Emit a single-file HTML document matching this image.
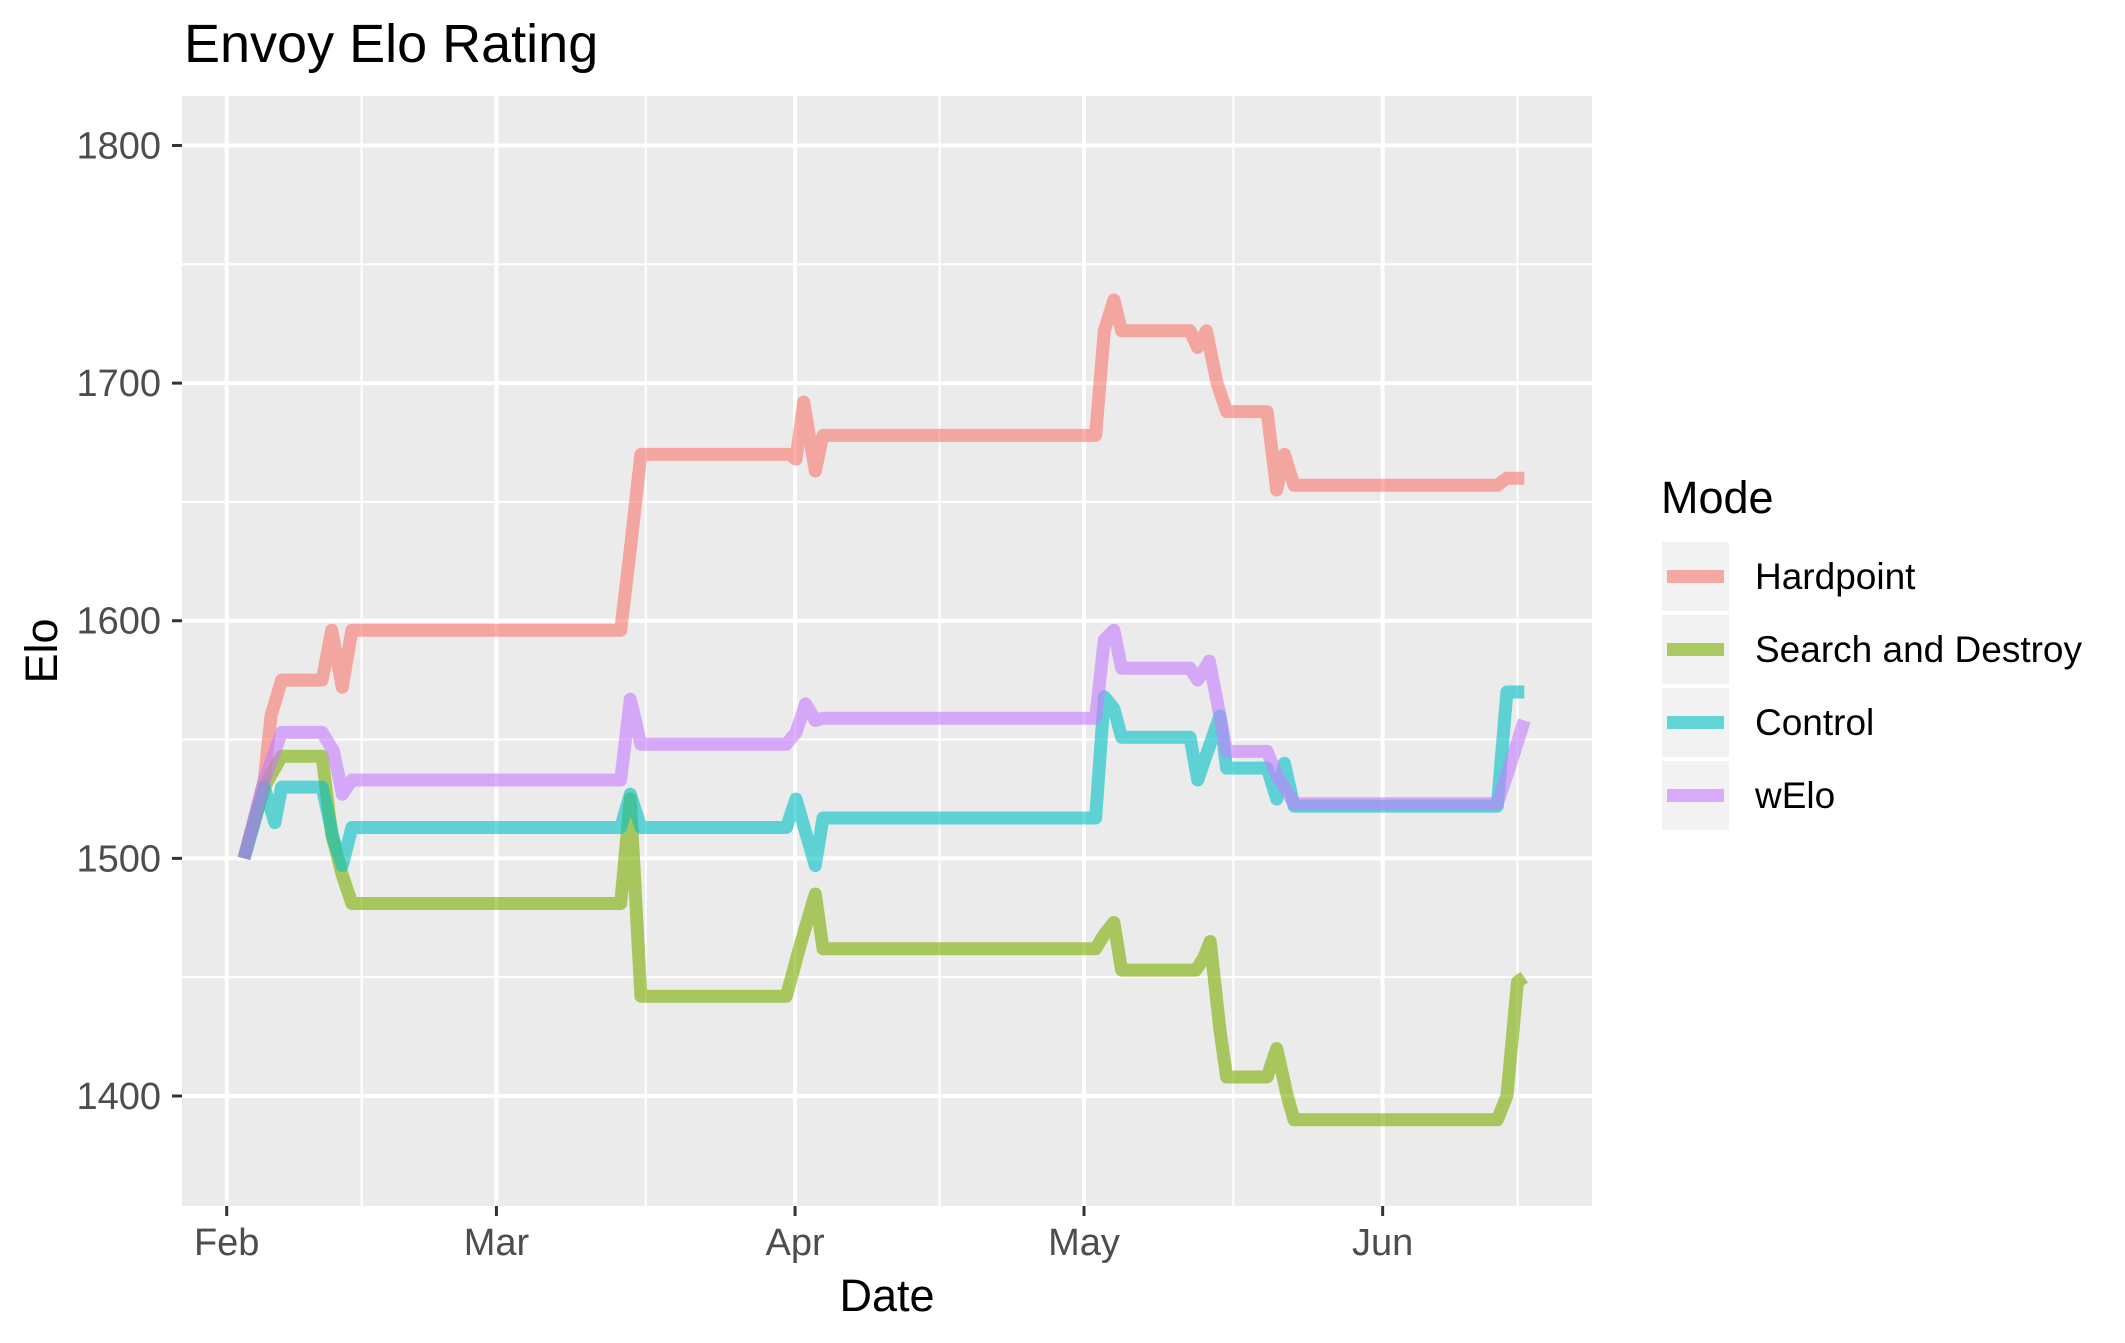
<!DOCTYPE html>
<html><head><meta charset="utf-8"><style>
html,body{margin:0;padding:0;background:#fff;}
svg{display:block;font-family:"Liberation Sans",Arial,sans-serif;}
</style></head><body>
<svg id="chart" width="2125" height="1343" viewBox="0 0 2125 1343" xmlns="http://www.w3.org/2000/svg">
<text x="184" y="62" font-size="54" fill="#000">Envoy Elo Rating</text>
<rect x="182" y="96" width="1410" height="1110" fill="#ebebeb"/>
<g id="grid"></g>
<g id="axes"></g>
<g id="series"></g>
<text x="887" y="1311" font-size="45" text-anchor="middle" fill="#000">Date</text>
<text x="0" y="0" font-size="45" text-anchor="middle" fill="#000" transform="translate(57,651) rotate(-90)">Elo</text>
<g>
<text x="1661" y="513" font-size="45" fill="#000">Mode</text>
<g id="legend-items"></g>
</g>
</svg>
<script>
const seriesNames = ["Hardpoint","Search and Destroy","Control","wElo"];
const seriesColors = ["#F8766D","#7CAE00","#00BFC4","#C77CFF"];
const hpDays = [1.8,3.9,4.6,5.7,9.9,10.9,12.0,13.0,40.9,41.9,43.0,58.4,59.1,59.9,61.1,61.9,90.2,91.1,92.1,92.9,100.0,100.8,101.7,102.8,103.8,108.0,109.0,109.8,110.8,131.9,132.9,134.7];
const hpVals = [1500,1533,1560,1575,1575,1596,1572,1596,1596,1630,1670,1670,1668,1692,1663,1678,1678,1722,1735,1722,1722,1715,1722,1700,1688,1688,1655,1670,1657,1657,1660,1660];
const sdDays = [1.8,3.9,5.7,9.9,10.9,12.0,13.0,40.9,41.9,43.0,58.1,59.5,61.1,61.9,90.2,91.1,92.1,92.9,100.6,101.4,102.1,103.1,103.8,108.0,109.0,110.1,110.8,131.9,132.9,134.0,134.7];
const sdVals = [1500,1530,1543,1543,1510,1493,1481,1481,1525,1442,1442,1463,1485,1462,1462,1468,1473,1453,1453,1458,1465,1428,1408,1408,1420,1400,1390,1390,1400,1448,1450];
const ctDays = [1.8,3.9,5.0,5.7,9.9,11.1,12.0,13.0,40.9,41.9,43.0,58.1,59.1,61.1,61.9,90.2,91.1,92.1,92.9,100.0,100.8,103.1,103.8,108.0,109.0,109.8,110.8,131.9,132.9,134.7];
const ctVals = [1500,1530,1515,1530,1530,1508,1497,1513,1513,1527,1513,1513,1525,1497,1517,1517,1568,1563,1551,1551,1533,1560,1538,1538,1525,1540,1522,1522,1570,1570];
const weDays = [1.8,3.9,5.0,5.7,9.9,11.1,12.0,13.0,40.9,41.9,43.0,58.1,59.1,60.1,61.1,61.9,90.2,91.1,92.1,92.9,100.0,100.8,102.0,103.1,103.8,108.0,109.0,109.8,110.8,131.9,133.3,134.7];
const weVals = [1500,1533,1545,1553,1553,1545,1527,1533,1533,1567,1548,1548,1553,1565,1558,1559,1559,1592,1596,1580,1580,1575,1583,1560,1545,1545,1535,1530,1523,1523,1540,1558];
const yTicks = [1400,1500,1600,1700,1800];
const yMinor = [1450,1550,1650,1750];
const xTickLabels = ["Feb","Mar","Apr","May","Jun"];
const xTickDays = [0,28,59,89,120];
const xMinorDays = [14,43.5,74,104.5,134];

const NS="http://www.w3.org/2000/svg";
function X(d){return 226.7 + d*9.633;}
function Y(v){return 1096 - (v-1400)*2.3763;}
function mk(tag,attrs,parent){const e=document.createElementNS(NS,tag);for(const k in attrs)e.setAttribute(k,attrs[k]);parent.appendChild(e);return e;}
const grid=document.getElementById('grid'),axes=document.getElementById('axes'),ser=document.getElementById('series'),leg=document.getElementById('legend-items');
yMinor.forEach(v=>{const l=mk('line',{x1:182,x2:1592,y1:Y(v),y2:Y(v),stroke:'#fff','stroke-width':2},grid);

});
xMinorDays.forEach(d=>{const l=mk('line',{x1:X(d),x2:X(d),y1:96,y2:1206,stroke:'#fff','stroke-width':2},grid);

});
yTicks.forEach(v=>{const l=mk('line',{x1:182,x2:1592,y1:Y(v),y2:Y(v),stroke:'#fff','stroke-width':4},grid);


const t=mk('line',{x1:172,x2:182,y1:Y(v),y2:Y(v),stroke:'#333','stroke-width':3},axes);


const tx=mk('text',{x:161,y:Y(v)+13,'font-size':38,'text-anchor':'end',fill:'#4d4d4d'},axes);tx.textContent=v;

});
xTickDays.forEach((d,i)=>{const l=mk('line',{x1:X(d),x2:X(d),y1:96,y2:1206,stroke:'#fff','stroke-width':4},grid);


const t=mk('line',{x1:X(d),x2:X(d),y1:1206,y2:1216,stroke:'#333','stroke-width':3},axes);


const tx=mk('text',{x:X(d),y:1255,'font-size':38,'text-anchor':'middle',fill:'#4d4d4d'},axes);tx.textContent=xTickLabels[i];

});
const allDays=[hpDays,sdDays,ctDays,weDays],allVals=[hpVals,sdVals,ctVals,weVals];
const slugs=['hardpoint','search-and-destroy','control','welo'];
allDays.forEach((ds,i)=>{const pts=ds.map((d,j)=>X(d).toFixed(1)+','+Y(allVals[i][j]).toFixed(1)).join(' ');
const p=mk('polyline',{points:pts,fill:'none',stroke:seriesColors[i],'stroke-width':13,'stroke-opacity':0.6,'stroke-linejoin':'round','stroke-linecap':'butt'},ser);

});
seriesNames.forEach((n,i)=>{const y0=542+i*73;
const g=mk('g',{},leg);


mk('rect',{x:1662,y:y0,width:67,height:69,fill:'#f2f2f2'},g);
mk('line',{x1:1667,x2:1724,y1:y0+34.5,y2:y0+34.5,stroke:seriesColors[i],'stroke-width':13,'stroke-opacity':0.6},g);
const t=mk('text',{x:1755,y:y0+47,'font-size':37,fill:'#000'},g);t.textContent=n;});
</script>
</body></html>
